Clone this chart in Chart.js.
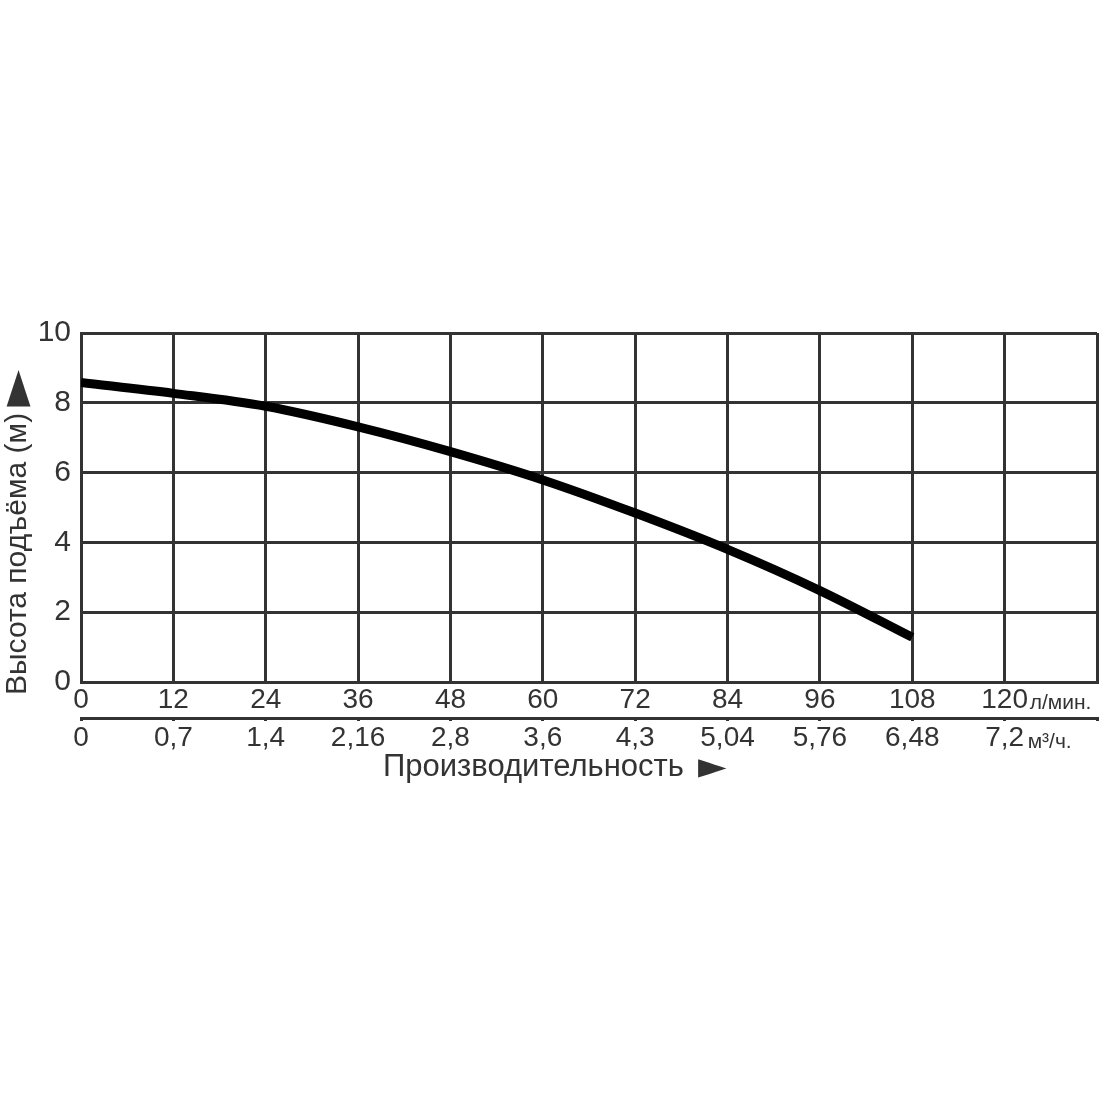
<!DOCTYPE html>
<html>
<head>
<meta charset="utf-8">
<script src="https://cdn.jsdelivr.net/npm/chart.js@4"></script>
<style>
  html, body { margin: 0; padding: 0; background: #fff; }
  #wrap { width: 1100px; height: 1100px; }
</style>
</head>
<body>
<div id="wrap"><canvas id="c" width="1100" height="1100"></canvas></div>
<script>
// ---- data ----
const flowLpm = [0, 12, 24, 36, 48, 60, 72, 84, 96, 108];
const headM = [8.58, 8.27, 7.9, 7.31, 6.6, 5.79, 4.84, 3.8, 2.62, 1.28];
const lpmTicks = [0, 12, 24, 36, 48, 60, 72, 84, 96, 108, 120];
const m3hTickLabels = ['0', '0,7', '1,4', '2,16', '2,8', '3,6', '4,3', '5,04', '5,76', '6,48', '7,2'];
const headTicks = [0, 2, 4, 6, 8, 10];
const xMax = 132;
const yMax = 10;
const unitLpm = 'л/мин.';
const unitM3h = 'м³/ч.';
const xTitle = 'Производительность';
const yTitle = 'Высота подъёма (м)';
const arrow = '►';

const FONT = '"Liberation Sans", Arial, Helvetica, sans-serif';
const ARROW_FONT = '"DejaVu Sans", sans-serif';
const TXT = '#333';
const GRID = '#333';

const extras = {
  id: 'extras',
  afterDraw(chart) {
    const ctx = chart.ctx;
    const xs = chart.scales.x;
    const x2 = chart.scales.x2;
    ctx.save();
    ctx.fillStyle = TXT;
    // units
    ctx.font = '21px ' + FONT;
    ctx.textAlign = 'left';
    ctx.textBaseline = 'middle';
    const px120 = xs.getPixelForValue(lpmTicks[lpmTicks.length - 1]);
    ctx.fillText(unitLpm, px120 + 25, xs.top + 21);
    ctx.fillText(unitM3h, px120 + 23, x2.top + 24);
    // x title
    ctx.font = '31px ' + FONT;
    ctx.textAlign = 'left';
    ctx.fillText(xTitle, 383, 767);
    let w = ctx.measureText(xTitle).width;
    ctx.font = '37px ' + ARROW_FONT;
    ctx.fillText(arrow, 383 + w + 14, 768);
    // y title
    ctx.translate(18, 695);
    ctx.rotate(-Math.PI / 2);
    ctx.font = '30px ' + FONT;
    ctx.fillText(yTitle, 0, 0);
    w = ctx.measureText(yTitle).width;
    ctx.font = '48px ' + ARROW_FONT;
    ctx.fillText(arrow, w + 6, 1);
    ctx.restore();
  }
};

new Chart(document.getElementById('c'), {
  type: 'line',
  data: {
    datasets: [{
      data: flowLpm.map((x, i) => ({ x: x, y: headM[i] })),
      borderColor: '#000',
      borderWidth: 9,
      pointRadius: 0,
      cubicInterpolationMode: 'monotone',
      fill: false,
      xAxisID: 'x',
      yAxisID: 'y'
    }]
  },
  options: {
    responsive: false,
    animation: false,
    events: [],
    layout: { padding: { top: 333, right: 3, bottom: 322, left: 0 } },
    plugins: { legend: { display: false }, tooltip: { enabled: false }, title: { display: false } },
    scales: {
      x: {
        type: 'linear', position: 'bottom', min: 0, max: xMax,
        afterBuildTicks: (s) => { s.ticks = lpmTicks.concat([xMax]).map(v => ({ value: v })); },
        afterFit: (s) => { s.height = 36; },
        ticks: {
          autoSkip: false, maxRotation: 0, padding: 1,
          color: TXT, font: { family: FONT, size: 28 },
          callback: (v) => (lpmTicks.includes(v) ? String(v) : '')
        },
        grid: { color: GRID, lineWidth: 3, drawTicks: false },
        border: { color: GRID, width: 3 }
      },
      x2: {
        type: 'linear', position: 'bottom', min: 0, max: xMax,
        afterBuildTicks: (s) => { s.ticks = lpmTicks.concat([xMax]).map(v => ({ value: v })); },
        afterFit: (s) => { s.height = 60; },
        ticks: {
          autoSkip: false, maxRotation: 0, padding: 0,
          color: TXT, font: { family: FONT, size: 28 },
          callback: (v) => { const i = lpmTicks.indexOf(v); return i >= 0 ? m3hTickLabels[i] : ''; }
        },
        grid: { drawOnChartArea: false, color: GRID, lineWidth: 3, tickLength: 3 },
        border: { color: GRID, width: 3 }
      },
      y: {
        type: 'linear', position: 'left', min: 0, max: yMax,
        afterBuildTicks: (s) => { s.ticks = headTicks.map(v => ({ value: v })); },
        afterFit: (s) => { s.width = 81; },
        ticks: {
          padding: 10, color: TXT, font: { family: FONT, size: 30 }
        },
        grid: { color: GRID, lineWidth: 3, drawTicks: false },
        border: { color: GRID, width: 3 }
      }
    }
  },
  plugins: [extras]
});
</script>
</body>
</html>
